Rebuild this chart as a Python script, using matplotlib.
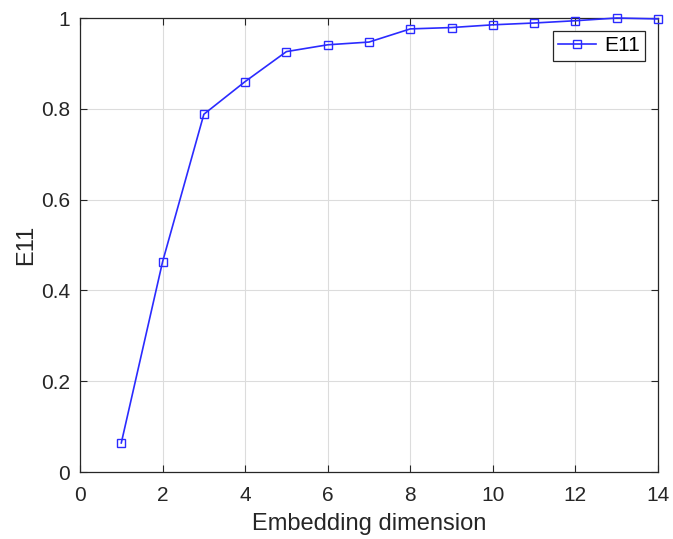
import matplotlib
matplotlib.use("Agg")
import matplotlib.pyplot as plt
from matplotlib.ticker import FuncFormatter

plt.rcParams['font.family'] = ['Liberation Sans', 'DejaVu Sans']

dims = [1, 2, 3, 4, 5, 6, 7, 8, 9, 10, 11, 12, 13, 14]
e11 = [0.064, 0.463, 0.788, 0.860, 0.926, 0.941, 0.947, 0.976, 0.979, 0.985, 0.989, 0.994, 1.0, 0.998]
xticks = [0, 2, 4, 6, 8, 10, 12, 14]
yticks = [0, 0.2, 0.4, 0.6, 0.8, 1.0]

fig = plt.figure(figsize=(6.73, 5.39), dpi=100)
ax = fig.add_axes([80/673, 67/539, 578/673, 454/539])
ax.plot(dims, e11, color='#2b2bff', linewidth=1.2, marker='s', markersize=5.5,
        markerfacecolor='none', markeredgecolor='#2b2bff', markeredgewidth=1.0,
        label='E11', clip_on=False, zorder=3)
ax.set_xlim(0, 14)
ax.set_ylim(0, 1)
ax.set_xticks(xticks)
ax.set_yticks(yticks)
ax.yaxis.set_major_formatter(FuncFormatter(lambda v, p: f"{v:g}"))
ax.grid(True, color='#dcdcdc', linewidth=0.8)
ax.set_axisbelow(True)
ax.tick_params(direction='in', top=True, right=True, length=5, labelsize=15, colors='#262626')
ax.tick_params(axis='x', pad=10)
ax.tick_params(axis='y', pad=7)
for s in ax.spines.values():
    s.set_color('#262626')
    s.set_linewidth(0.9)
ax.set_xlabel('Embedding dimension', fontsize=17, color='#262626', labelpad=6)
ax.set_ylabel('E11', fontsize=17, color='#262626', labelpad=3)
leg = ax.legend(loc='upper right', bbox_to_anchor=(0.978, 0.971), fontsize=15, fancybox=False,
                framealpha=1, edgecolor='#262626', handlelength=1.8, borderpad=0.25,
                borderaxespad=0, handletextpad=0.4)
leg.get_frame().set_linewidth(0.9)
fig.savefig('out.png', dpi=100)
